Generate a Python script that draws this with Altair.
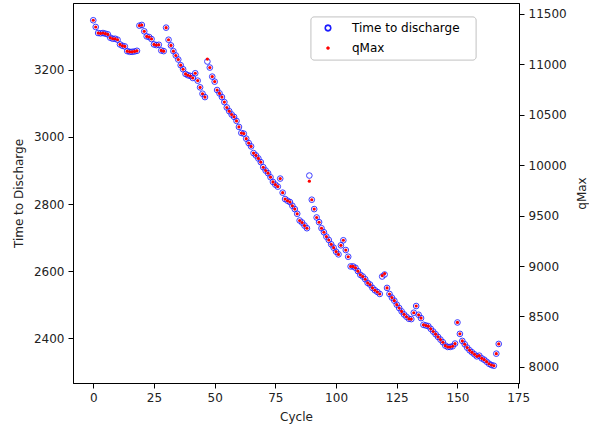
import altair as alt
import pandas as pd

cycles = list(range(168))

time_to_discharge = [
    3348, 3328, 3310, 3309, 3310, 3308, 3306, 3296, 3293, 3293,
    3290, 3276, 3272, 3270, 3256, 3254, 3254, 3255, 3257, 3332,
    3334, 3315, 3300, 3298, 3292, 3276, 3274, 3275, 3258, 3256,
    3326, 3290, 3273, 3256, 3243, 3231, 3214, 3202, 3188, 3184,
    3182, 3176, 3190, 3168, 3148, 3129, 3119, 3225, 3207, 3180,
    3165, 3140, 3130, 3119, 3104, 3088, 3077, 3067, 3060, 3048,
    3030, 3012, 3010, 2995, 2982, 2972, 2952, 2945, 2936, 2925,
    2910, 2900, 2892, 2880, 2866, 2858, 2852, 2876, 2834, 2815,
    2810, 2806, 2795, 2785, 2771, 2751, 2745, 2736, 2728, 2885,
    2813, 2785, 2760, 2746, 2728, 2716, 2703, 2693, 2680, 2670,
    2658, 2650, 2677, 2692, 2663, 2643, 2614, 2614, 2610, 2600,
    2589, 2584, 2576, 2565, 2560, 2550, 2543, 2538, 2532, 2584,
    2590, 2550, 2532, 2521, 2512, 2500, 2490, 2480, 2471, 2464,
    2458, 2457, 2476, 2496, 2470, 2460, 2440, 2438, 2436, 2428,
    2420, 2412, 2404, 2396, 2388, 2378, 2374, 2374, 2376, 2384,
    2447, 2413, 2392, 2382, 2372, 2364, 2358, 2352, 2346, 2348,
    2340, 2336, 2330, 2324, 2320, 2318, 2354, 2383,
]

qmax = [
    11435, 11368, 11309, 11305, 11309, 11302, 11295, 11262, 11252, 11252,
    11242, 11196, 11182, 11176, 11129, 11122, 11122, 11126, 11132, 11382,
    11388, 11325, 11275, 11269, 11249, 11196, 11189, 11192, 11136, 11129,
    11362, 11242, 11186, 11129, 11086, 11046, 10990, 10950, 10903, 10890,
    10883, 10863, 10910, 10837, 10770, 10707, 10674, 11050, 10966, 10877,
    10827, 10744, 10710, 10674, 10624, 10571, 10534, 10501, 10478, 10438,
    10378, 10318, 10312, 10262, 10219, 10185, 10119, 10096, 10066, 10029,
    9979, 9946, 9920, 9880, 9833, 9806, 9787, 9866, 9727, 9664,
    9647, 9634, 9597, 9564, 9517, 9451, 9431, 9401, 9374, 9841,
    9657, 9564, 9481, 9434, 9374, 9335, 9292, 9258, 9215, 9182,
    9142, 9115, 9205, 9255, 9158, 9092, 8996, 8996, 8982, 8949,
    8913, 8896, 8869, 8833, 8816, 8783, 8760, 8743, 8723, 8905,
    8925, 8783, 8723, 8687, 8657, 8617, 8584, 8550, 8521, 8497,
    8477, 8474, 8537, 8604, 8517, 8484, 8418, 8411, 8404, 8378,
    8351, 8325, 8298, 8271, 8245, 8211, 8198, 8198, 8205, 8231,
    8441, 8328, 8258, 8225, 8192, 8165, 8145, 8125, 8105, 8112,
    8085, 8072, 8052, 8032, 8019, 8012, 8132, 8228,
]

legend_labels = ["Time to discharge", "qMax"]

x_ticks = [0, 25, 50, 75, 100, 125, 150, 175]
left_ticks = [2400, 2600, 2800, 3000, 3200]
right_ticks = [8000, 8500, 9000, 9500, 10000, 10500, 11000, 11500]

df = pd.DataFrame({"cycle": cycles, "ttd": time_to_discharge, "qmax": qmax})

FONT = "DejaVu Sans"
FS = 12

x_enc = alt.X(
    "cycle:Q",
    scale=alt.Scale(domain=[-8.35, 175.35], nice=False, zero=False),
    axis=alt.Axis(values=x_ticks, title="Cycle", format="d", labelFlush=False,
                  titlePadding=8),
)

blue = alt.Chart(df).mark_point(
    shape="circle", filled=False, color="#1a1aff", size=32, strokeWidth=1.0, opacity=0.85
).encode(
    x=x_enc,
    y=alt.Y(
        "ttd:Q",
        scale=alt.Scale(domain=[2266.5, 3399.5], nice=False, zero=False),
        axis=alt.Axis(orient="left", values=left_ticks, title="Time to Discharge",
                      format="d", titlePadding=8),
    ),
)

red = alt.Chart(df).mark_circle(color="#ff0000", size=10, opacity=1).encode(
    x=x_enc,
    y=alt.Y(
        "qmax:Q",
        scale=alt.Scale(domain=[7841, 11606], nice=False, zero=False),
        axis=alt.Axis(orient="right", values=right_ticks, title="qMax", format="d",
                      titleAngle=270, titlePadding=22),
    ),
)

leg_df = pd.DataFrame({"label": legend_labels})

leg_box = alt.Chart(leg_df).mark_rect(
    fill="white", stroke="#cccccc", strokeWidth=1, cornerRadius=3, opacity=0.9
).encode(
    x=alt.value(238), x2=alt.value(403), y=alt.value(14), y2=alt.value(57)
)

leg_sym1 = alt.Chart(leg_df).mark_point(
    shape="circle", filled=False, color="#1a1aff", size=30, strokeWidth=1.3, opacity=0.9
).encode(x=alt.value(255), y=alt.value(25))

leg_sym2 = alt.Chart(leg_df).mark_circle(color="#ff0000", size=10, opacity=1).encode(
    x=alt.value(255), y=alt.value(45)
)

leg_text1 = alt.Chart(leg_df).transform_filter(
    alt.datum.label == legend_labels[0]
).mark_text(align="left", baseline="middle", font=FONT, fontSize=FS, color="black").encode(
    x=alt.value(279), y=alt.value(25), text="label:N"
)

leg_text2 = alt.Chart(leg_df).transform_filter(
    alt.datum.label == legend_labels[1]
).mark_text(align="left", baseline="middle", font=FONT, fontSize=FS, color="black").encode(
    x=alt.value(279), y=alt.value(45), text="label:N"
)

chart = alt.layer(
    blue, red, leg_box, leg_sym1, leg_sym2, leg_text1, leg_text2
).resolve_scale(
    y="independent"
).properties(
    width=446,
    height=380,
    autosize=alt.AutoSizeParams(type="none"),
    padding={"left": 73, "top": 3, "right": 70, "bottom": 51},
).configure(
    background="white"
).configure_view(
    stroke="black", strokeWidth=1
).configure_axis(
    grid=False,
    domainColor="black",
    domainWidth=1,
    tickColor="black",
    tickSize=5,
    labelFont=FONT,
    labelFontSize=FS,
    labelColor="#222222",
    labelPadding=4,
    titleFont=FONT,
    titleFontSize=FS,
    titleFontWeight="normal",
    titleColor="#222222",
)

chart.save("out.html", embed_options={"renderer": "svg", "actions": False})
